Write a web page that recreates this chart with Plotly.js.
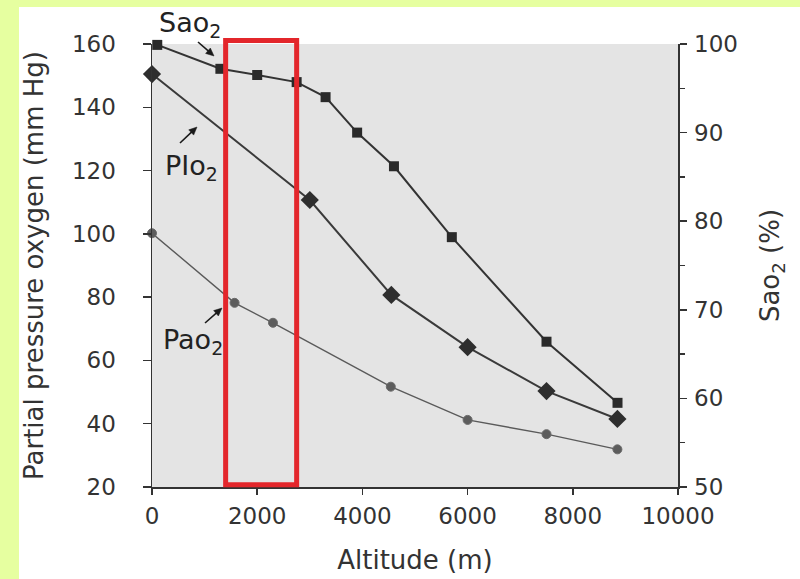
<!DOCTYPE html>
<html>
<head>
<meta charset="utf-8">
<script src="https://cdn.plot.ly/plotly-3.0.1.min.js"></script>
<style>
  html, body { margin: 0; padding: 0; background: #e6ffa0; width: 800px; height: 579px; overflow: hidden; }
  #chart { position: absolute; left: 19px; top: 7px; width: 781px; height: 572px; }
</style>
</head>
<body>
<div id="chart"></div>
<script>
// Altitude (m) and values
const altSao2 = [100, 1300, 2000, 2750, 3300, 3900, 4600, 5700, 7500, 8850];
const sao2    = [99.9, 97.2, 96.5, 95.7, 94.0, 90.0, 86.2, 78.2, 66.4, 59.5];

const altPio2 = [0, 3000, 4550, 6000, 7500, 8848];
const pio2    = [150.5, 110.7, 80.7, 64.2, 50.3, 41.5];

const altPao2 = [0, 1570, 2300, 4540, 6000, 7500, 8848];
const pao2    = [100.2, 78.2, 71.9, 51.7, 41.2, 36.7, 31.9];

const xTicks  = [0, 2000, 4000, 6000, 8000, 10000];
const yTicks  = [20, 40, 60, 80, 100, 120, 140, 160];
const y2Ticks = [50, 60, 70, 80, 90, 100];

const labelTexts = ['Sao<sub>2</sub>', 'PIo<sub>2</sub>', 'Pao<sub>2</sub>'];

const FONT = 'DejaVu Sans, Liberation Sans, Arial, sans-serif';
const INK = '#333333';

// plot-area frame (px inside the figure) used to place pointer arrows in paper units
const PLOT = { left: 133, top: 37, w: 526, h: 443 };
function toPaper(px, py) { return [(px - PLOT.left) / PLOT.w, (PLOT.top + PLOT.h - py) / PLOT.h]; }
function arrowShapes(tx, ty, hx, hy) {
  const dx = hx - tx, dy = hy - ty, L = Math.hypot(dx, dy);
  const ux = dx / L, uy = dy / L, nx = -uy, ny = ux;
  const hl = 8, hw = 3.6;
  const bx = hx - hl * ux, by = hy - hl * uy;
  const t = toPaper(tx, ty), b = toPaper(hx - 5 * ux, hy - 5 * uy);
  const p1 = toPaper(hx, hy), p2 = toPaper(bx + hw * nx, by + hw * ny), p3 = toPaper(bx - hw * nx, by - hw * ny);
  return [
    { type: 'line', xref: 'paper', yref: 'paper', x0: t[0], y0: t[1], x1: b[0], y1: b[1],
      line: { color: '#1a1a1a', width: 1.6 }, layer: 'above' },
    { type: 'path', xref: 'paper', yref: 'paper', layer: 'above',
      path: `M ${p1[0]} ${p1[1]} L ${p2[0]} ${p2[1]} L ${p3[0]} ${p3[1]} Z`,
      fillcolor: '#1a1a1a', line: { color: '#1a1a1a', width: 0.5 } }
  ];
}
function labelAt(text, px, py) {
  const p = toPaper(px, py);
  return { x: p[0], y: p[1], xref: 'paper', yref: 'paper', text: text, showarrow: false,
    xanchor: 'center', yanchor: 'middle', font: { family: FONT, size: 27, color: '#222' } };
}

const traces = [
  {
    x: altPao2, y: pao2, type: 'scatter', mode: 'lines+markers', name: 'Pao2',
    line: { color: '#5a5a5a', width: 1.4 },
    marker: { symbol: 'circle', size: 9, color: '#5c5c5c', line: { color: '#6a6a6a', width: 1 } },
    cliponaxis: false
  },
  {
    x: altPio2, y: pio2, type: 'scatter', mode: 'lines+markers', name: 'PIo2',
    line: { color: '#3a3a3a', width: 2 },
    marker: { symbol: 'diamond', size: 14, color: '#2e2e2e' },
    cliponaxis: false
  },
  {
    x: altSao2, y: sao2, type: 'scatter', mode: 'lines+markers', name: 'Sao2', yaxis: 'y2',
    line: { color: '#333333', width: 2 },
    marker: { symbol: 'square', size: 10, color: '#2a2a2a' },
    cliponaxis: false
  }
];

const layout = {
  width: 781, height: 572,
  margin: { l: 133, r: 122, t: 37, b: 92, pad: 0 },
  paper_bgcolor: '#ffffff',
  plot_bgcolor: '#e4e4e4',
  showlegend: false,
  font: { family: FONT, color: INK, size: 23 },
  xaxis: {
    range: [0, 10000], tickvals: xTicks, ticktext: xTicks.map(String),
    showgrid: false, zeroline: false, showline: true, linecolor: INK, linewidth: 1.5,
    ticks: 'outside', ticklen: 6, tickwidth: 1.5, tickcolor: INK,
    ticklabelstandoff: 2,
    tickfont: { family: FONT, size: 23, color: INK },
    title: { text: 'Altitude (m)', font: { family: FONT, size: 26, color: INK }, standoff: 22 },
    automargin: false
  },
  yaxis: {
    range: [20, 160], tickvals: yTicks, ticktext: yTicks.map(String),
    showgrid: false, zeroline: false, showline: true, linecolor: INK, linewidth: 1.5,
    ticks: 'outside', ticklen: 8, tickwidth: 1.5, tickcolor: INK,
    ticklabelstandoff: 22,
    tickfont: { family: FONT, size: 23, color: INK },
    title: { text: 'Partial pressure oxygen (mm Hg)', font: { family: FONT, size: 26, color: INK }, standoff: 28 },
    automargin: false
  },
  yaxis2: {
    range: [50, 100], overlaying: 'y', side: 'right', anchor: 'x',
    tickvals: y2Ticks, ticktext: y2Ticks.map(String),
    showgrid: false, zeroline: false, showline: true, linecolor: INK, linewidth: 1.5,
    ticks: 'outside', ticklen: 7, tickwidth: 1.5, tickcolor: INK,
    minor: { dtick: 5, tick0: 50, ticks: 'outside', ticklen: 5, tickwidth: 1.5, tickcolor: INK, showgrid: false },
    ticklabelstandoff: 3,
    tickfont: { family: FONT, size: 23, color: INK },
    title: { text: 'Sao<sub>2</sub> (%)', font: { family: FONT, size: 26, color: INK }, standoff: 24 },
    automargin: false
  },
  shapes: [
    { type: 'rect', xref: 'x', yref: 'paper', x0: 1400, x1: 2750, y0: 0.005, y1: 1.008,
      line: { color: '#e3262b', width: 5 }, fillcolor: 'rgba(0,0,0,0)', layer: 'above' }
  ].concat(
    arrowShapes(179, 35, 195, 49),
    arrowShapes(161, 136, 178, 120),
    arrowShapes(186, 316, 203, 301)
  ),
  annotations: [
    labelAt(labelTexts[0], 171, 17),
    labelAt(labelTexts[1], 172, 160),
    labelAt(labelTexts[2], 174, 334)
  ]
};

Plotly.newPlot('chart', traces, layout, { displayModeBar: false, staticPlot: true });
</script>
</body>
</html>
